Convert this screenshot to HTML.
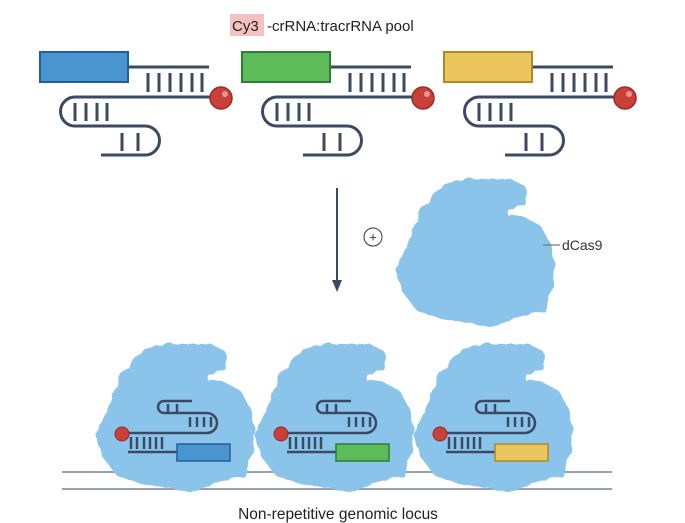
<!DOCTYPE html>
<html><head><meta charset="utf-8"><style>
html,body{margin:0;padding:0;background:#fff;}
svg{display:block;font-family:"Liberation Sans",sans-serif;}
</style></head><body>
<svg width="685" height="523" viewBox="0 0 685 523" xmlns="http://www.w3.org/2000/svg">
<defs>
<filter id="lumpy" x="-10%" y="-10%" width="120%" height="120%">
<feTurbulence type="fractalNoise" baseFrequency="0.12" numOctaves="1" seed="3"/>
<feDisplacementMap in="SourceGraphic" scale="5"/>
</filter>
<path id="blob" d="M457,187 L470,184 L490,186 L508,184 L521,191 L520,199 L504,205 L501,223 L519,221 L536,230 L545,246 L549,265 L547,285 L540,306 L517,311 L492,321 L470,317 L443,313 L420,305 L408,289 L402,270 L411,251 L420,229 L426,213 L436,201 L446,190 Z" fill="#8ac4ea" stroke="#8ac4ea" stroke-width="12" stroke-linejoin="round" filter="url(#lumpy)"/>
<g id="guide" fill="none" stroke="#3b4a63" stroke-width="3">
<line x1="128" y1="67" x2="209" y2="67"/>
<path d="M148,73v19M159,73v19M170,73v19M181,73v19M192,73v19M202,73v19"/>
<path d="M210,97 H75 A14.5,14.5 0 0 0 75,126 H145 A14.5,14.5 0 0 1 145,155 H101"/>
<path d="M75,103v18M86,103v18M97,103v18M107,103v18"/>
<path d="M122,133v18M138,133v18"/>
</g>
<g id="inner" fill="none" stroke="#3b4a63" stroke-width="2.5">
<path d="M192,401 H164 A6,6 0 0 0 164,413 H207 A10,10 0 0 1 207,433 H124"/>
<path d="M168,404v8M177,404v8"/>
<path d="M190,417v10M197,417v10M204,417v10M211,417v10"/>
<path d="M131,437v12M137,437v12M144,437v12M150,437v12M156,437v12M162,437v12"/>
<line x1="128" y1="452" x2="177" y2="452"/>
</g>
</defs>

<rect x="230" y="14" width="34" height="22" fill="#f3c2c0"/>
<text x="232" y="31" font-size="15" fill="#222">Cy3</text>
<text x="267" y="31" font-size="15" fill="#222">-crRNA:tracrRNA pool</text>

<g>
<use href="#guide"/>
<rect x="40" y="52" width="88" height="30" fill="#4a94cf" stroke="#1f5f9a" stroke-width="2"/>
<circle cx="221" cy="98" r="11" fill="#c9403a" stroke="#9a2a25" stroke-width="1.5"/>
<circle cx="225" cy="94" r="3" fill="#e89590"/>
</g>
<g transform="translate(202,0)">
<use href="#guide"/>
<rect x="40" y="52" width="88" height="30" fill="#5dbb5a" stroke="#2e7d32" stroke-width="2"/>
<circle cx="221" cy="98" r="11" fill="#c9403a" stroke="#9a2a25" stroke-width="1.5"/>
<circle cx="225" cy="94" r="3" fill="#e89590"/>
</g>
<g transform="translate(404,0)">
<use href="#guide"/>
<rect x="40" y="52" width="88" height="30" fill="#eac55d" stroke="#b08a20" stroke-width="2"/>
<circle cx="221" cy="98" r="11" fill="#c9403a" stroke="#9a2a25" stroke-width="1.5"/>
<circle cx="225" cy="94" r="3" fill="#e89590"/>
</g>

<line x1="337" y1="188" x2="337" y2="282" stroke="#3b4a63" stroke-width="2"/>
<path d="M332,280 L342,280 L337,292 Z" fill="#3b4a63"/>
<circle cx="373" cy="237" r="9" fill="none" stroke="#333" stroke-width="1"/>
<text x="373" y="241.5" font-size="13" text-anchor="middle" fill="#333">+</text>

<use href="#blob"/>
<line x1="543" y1="245" x2="560" y2="245" stroke="#777" stroke-width="1.2"/>
<text x="562" y="250" font-size="14" fill="#333">dCas9</text>

<line x1="62" y1="472" x2="612" y2="472" stroke="#9aa0ad" stroke-width="2"/>
<line x1="62" y1="489" x2="612" y2="489" stroke="#9aa0ad" stroke-width="2"/>
<g transform="translate(-300,165)"><use href="#blob"/></g>
<g transform="translate(-141,165)"><use href="#blob"/></g>
<g transform="translate(18,165)"><use href="#blob"/></g>

<g>
<use href="#inner"/>
<rect x="177" y="444" width="53" height="17" fill="#4a94cf" stroke="#1f5f9a" stroke-width="1.5"/>
<circle cx="122" cy="434" r="7" fill="#c9403a" stroke="#9a2a25" stroke-width="1"/>
</g>
<g transform="translate(159,0)">
<use href="#inner"/>
<rect x="177" y="444" width="53" height="17" fill="#5dbb5a" stroke="#2e7d32" stroke-width="1.5"/>
<circle cx="122" cy="434" r="7" fill="#c9403a" stroke="#9a2a25" stroke-width="1"/>
</g>
<g transform="translate(318,0)">
<use href="#inner"/>
<rect x="177" y="444" width="53" height="17" fill="#eac55d" stroke="#b08a20" stroke-width="1.5"/>
<circle cx="122" cy="434" r="7" fill="#c9403a" stroke="#9a2a25" stroke-width="1"/>
</g>

<text x="338" y="519" font-size="15.5" text-anchor="middle" fill="#222">Non-repetitive genomic locus</text>
</svg>
</body></html>
